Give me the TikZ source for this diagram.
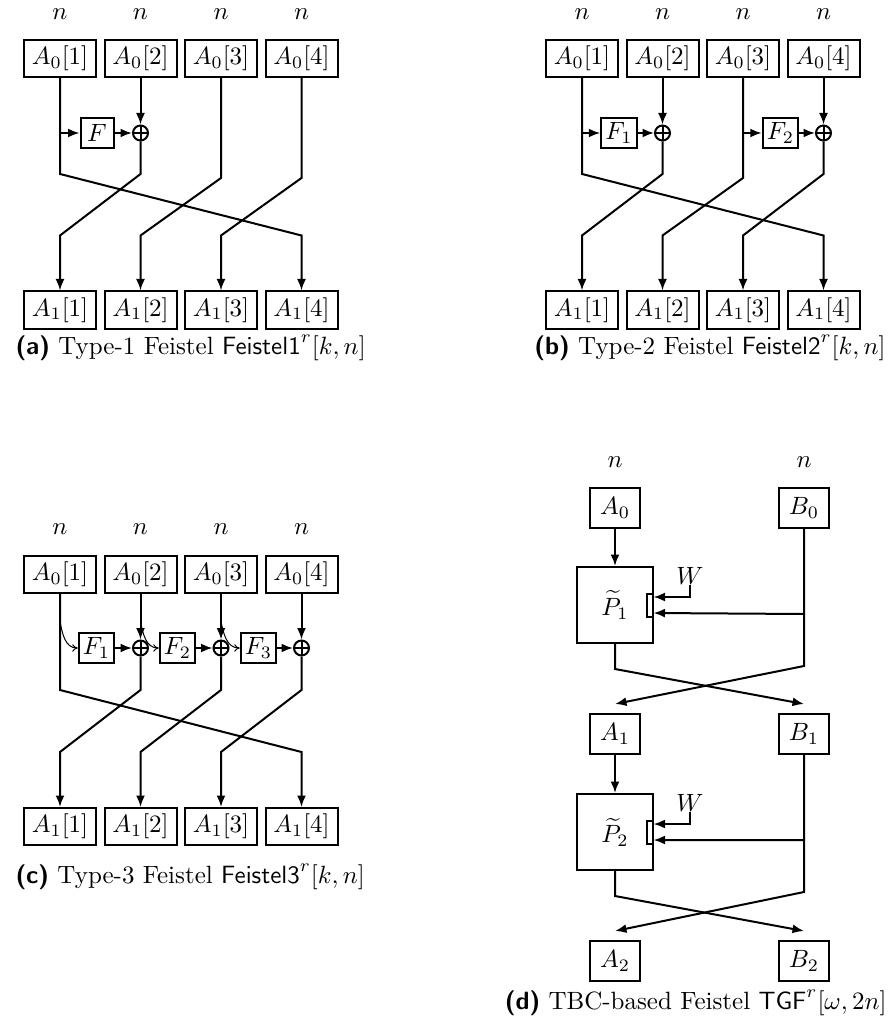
\documentclass[tikz,border=0pt]{standalone}
\usetikzlibrary{arrows.meta,calc}
\begin{document}
\begin{tikzpicture}[x=0.4pt,y=-0.4pt,
  box/.style={draw,thick,inner sep=0pt,minimum width=28.8pt,minimum height=14.8pt},
  fbox/.style={draw,thick,inner sep=0pt,minimum width=14.2pt,minimum height=11.8pt},
  dbox/.style={draw,thick,inner sep=0pt,minimum width=20pt,minimum height=16pt},
  pbox/.style={draw,thick,inner sep=0pt,minimum size=30.4pt},
  twk/.style={draw,thick,inner sep=0pt,minimum width=2.4pt,minimum height=9.2pt},
  xor/.style={circle,draw,thick,inner sep=0pt,minimum size=6pt,
    path picture={\draw[thick] (path picture bounding box.north) -- (path picture bounding box.south)
      (path picture bounding box.west) -- (path picture bounding box.east);}},
  lbl/.style={inner sep=0pt},
  arr/.style={thick,-{Latex[length=4.6pt,width=3.6pt]}},
  ln/.style={thick},
  tarr/.style={line width=0.4pt,-{To[length=2.2pt,width=3pt]}},
  captext/.style={inner sep=0pt}
]
\useasboundingbox (0,0) rectangle (890,1032);

% ---------------- (a) ----------------
\foreach \i/\x in {1/60,2/140.5,3/221,4/301.5} {
  \node[lbl] (an\i) at (\x,14) {$n$};
  \node[box] (at\i) at (\x,58.5) {$A_0[\i]$};
  \node[box] (ab\i) at (\x,310) {$A_1[\i]$};
}
\node[fbox,minimum width=13.2pt] (aF) at (97,133) {$F$};
\node[xor] (aX) at (140.5,133) {};
\draw[arr] (at1.south |- aF.west) -- (aF.west);
\draw[arr] (aF.east) -- (aX.west);
\draw[arr] (at2.south) -- (aX.north);
\draw[arr] (at1.south) -- ($(at1.south)+(0,96)$) -- ($(ab4.north)+(0,-55)$) -- (ab4.north);
\draw[arr] (aX.south) -- ($(at2.south)+(0,96)$) -- ($(ab1.north)+(0,-55)$) -- (ab1.north);
\draw[arr] (at3.south) -- ($(at3.south)+(0,100)$) -- ($(ab2.north)+(0,-55)$) -- (ab2.north);
\draw[arr] (at4.south) -- ($(at4.south)+(0,100)$) -- ($(ab3.north)+(0,-55)$) -- (ab3.north);
\node[captext,anchor=base west] (capa) at (15,354) {\textsf{\textbf{(a)}} Type-1 Feistel $\mathsf{Feistel1}^r[k,n]$};

% ---------------- (b) ----------------
\foreach \i/\x in {1/582,2/662.5,3/743,4/823.5} {
  \node[lbl] (bn\i) at (\x,14) {$n$};
  \node[box] (bt\i) at (\x,58.5) {$A_0[\i]$};
  \node[box] (bb\i) at (\x,310) {$A_1[\i]$};
}
\node[fbox] (bF1) at (619,133) {$F_1$};
\node[xor] (bX1) at (662.5,133) {};
\node[fbox] (bF2) at (780.5,133) {$F_2$};
\node[xor] (bX2) at (823.5,133) {};
\draw[arr] (bt1.south |- bF1.west) -- (bF1.west);
\draw[arr] (bF1.east) -- (bX1.west);
\draw[arr] (bt2.south) -- (bX1.north);
\draw[arr] (bt3.south |- bF2.west) -- (bF2.west);
\draw[arr] (bF2.east) -- (bX2.west);
\draw[arr] (bt4.south) -- (bX2.north);
\draw[arr] (bt1.south) -- ($(bt1.south)+(0,96)$) -- ($(bb4.north)+(0,-55)$) -- (bb4.north);
\draw[arr] (bX1.south) -- ($(bt2.south)+(0,96)$) -- ($(bb1.north)+(0,-55)$) -- (bb1.north);
\draw[arr] (bt3.south) -- ($(bt3.south)+(0,100)$) -- ($(bb2.north)+(0,-55)$) -- (bb2.north);
\draw[arr] (bX2.south) -- ($(bt4.south)+(0,96)$) -- ($(bb3.north)+(0,-55)$) -- (bb3.north);
\node[captext,anchor=base east] (capb) at (886,354) {\textsf{\textbf{(b)}} Type-2 Feistel $\mathsf{Feistel2}^r[k,n]$};

% ---------------- (c) ----------------
\foreach \i/\x in {1/60,2/140.5,3/221,4/301.5} {
  \node[lbl] (cn\i) at (\x,529) {$n$};
  \node[box] (ct\i) at (\x,574.5) {$A_0[\i]$};
  \node[box] (cb\i) at (\x,826.5) {$A_1[\i]$};
}
\node[fbox] (cF1) at (96.5,648) {$F_1$};
\node[xor] (cX1) at (140.5,648) {};
\node[fbox] (cF2) at (177.5,648) {$F_2$};
\node[xor] (cX2) at (221,648) {};
\node[fbox] (cF3) at (258.5,648) {$F_3$};
\node[xor] (cX3) at (301.5,648) {};
\draw[tarr] ($(ct1.south)+(0,27)$) to[out=-80,in=180] (cF1.west);
\draw[tarr] ($(ct2.south)+(0,27)$) to[out=-80,in=180] (cF2.west);
\draw[tarr] ($(ct3.south)+(0,27)$) to[out=-80,in=180] (cF3.west);
\draw[arr] (ct2.south) -- (cX1.north);
\draw[arr] (ct3.south) -- (cX2.north);
\draw[arr] (ct4.south) -- (cX3.north);
\draw[arr] (cF1.east) -- (cX1.west);
\draw[arr] (cF2.east) -- (cX2.west);
\draw[arr] (cF3.east) -- (cX3.west);
\draw[arr] (ct1.south) -- ($(ct1.south)+(0,96)$) -- ($(cb4.north)+(0,-55)$) -- (cb4.north);
\draw[arr] (cX1.south) -- ($(ct2.south)+(0,96)$) -- ($(cb1.north)+(0,-55)$) -- (cb1.north);
\draw[arr] (cX2.south) -- ($(ct3.south)+(0,96)$) -- ($(cb2.north)+(0,-55)$) -- (cb2.north);
\draw[arr] (cX3.south) -- ($(ct4.south)+(0,96)$) -- ($(cb3.north)+(0,-55)$) -- (cb3.north);
\node[captext,anchor=base west] (capc) at (15,883) {\textsf{\textbf{(c)}} Type-3 Feistel $\mathsf{Feistel3}^r[k,n]$};

% ---------------- (d) ----------------
\node[lbl] (dn1) at (615,462) {$n$};
\node[lbl] (dn2) at (804,462) {$n$};
\node[dbox] (dA0) at (615,508) {$A_0$};
\node[dbox] (dB0) at (804,508) {$B_0$};
\node[dbox] (dA1) at (615,734) {$A_1$};
\node[dbox] (dB1) at (804,734) {$B_1$};
\node[dbox] (dA2) at (615,961) {$A_2$};
\node[dbox] (dB2) at (804,961) {$B_2$};
\node[pbox] (dP1) at (615,605) {$\widetilde{P}_1$};
\node[pbox] (dP2) at (615,832) {$\widetilde{P}_2$};
\node[twk] (dT1) at (649.5,605.5) {};
\node[twk] (dT2) at (649.5,832.5) {};
\node[lbl] (dW1) at (690,576) {$W$};
\node[lbl] (dW2) at (690,803) {$W$};
% round 1
\draw[arr] (dA0.south) -- (dP1.north);
\draw[arr] (dW1.south) |- ($(dT1.east)+(0,-8.5)$);
\draw[arr] ($(dB0.south)+(0,85)$) -- ($(dT1.east)+(0,7.5)$);
\draw[arr] (dB0.south) -- ($(dB0.south)+(0,137)$) -- ($(dA1.north)+(0,-9)$);
\draw[arr] (dP1.south) -- ($(dP1.south)+(0,25)$) -- ($(dB1.north)+(0,-9)$);
% round 2
\draw[arr] (dA1.south) -- (dP2.north);
\draw[arr] (dW2.south) |- ($(dT2.east)+(0,-8.5)$);
\draw[arr] ($(dB1.south)+(0,85)$) -- ($(dT2.east)+(0,7.5)$);
\draw[arr] (dB1.south) -- ($(dB1.south)+(0,137)$) -- ($(dA2.north)+(0,-9)$);
\draw[arr] (dP2.south) -- ($(dP2.south)+(0,25)$) -- ($(dB2.north)+(0,-9)$);
\node[captext,anchor=base east] (capd) at (887,1009) {\textsf{\textbf{(d)}} TBC-based Feistel $\mathsf{TGF}^r[\omega,2n]$};
\end{tikzpicture}
\end{document}
